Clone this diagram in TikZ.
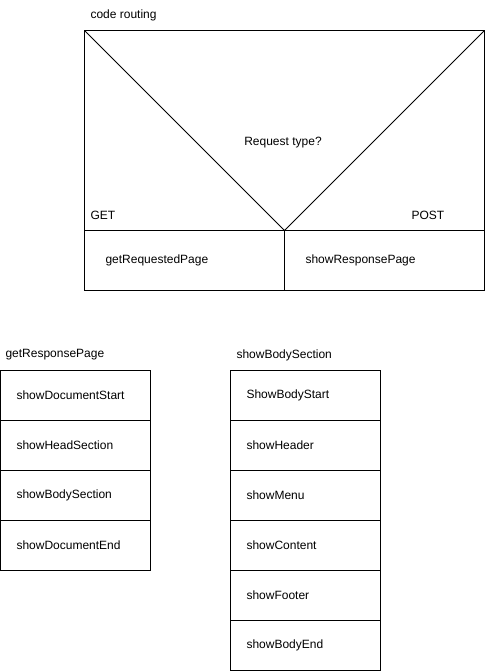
\documentclass[tikz,border=0pt]{standalone}
\usepackage{fontspec}
\setmainfont{Liberation Sans}
\usetikzlibrary{positioning}

\begin{document}
\begin{tikzpicture}[x=1pt, y=-1pt, line width=1pt, font=\fontsize{12}{14}\selectfont,
    cell/.style={draw, rectangle, outer sep=0pt, minimum width=150pt, minimum height=50pt, text width=118pt, inner xsep=16pt, align=left},
    branch/.style={draw, rectangle, outer sep=0pt, minimum width=200pt, minimum height=60pt, text width=158pt, inner xsep=21pt, align=left},
    caption/.style={inner sep=0pt, anchor=west}]
    \useasboundingbox (0,0) rectangle (486,671);

    % Routing decision
    \node[caption] (routeTitle) at (90,15) {code routing};
    \node[draw, rectangle, outer sep=0pt, minimum width=400pt, minimum height=200pt, anchor=north west] (decide) at (84.5,30.5) {};
    \node[branch, anchor=north west] (getPage) at (decide.south west) {getRequestedPage};
    \node[branch, right=0pt of getPage] (postPage) {showResponsePage};
    \draw (decide.north west) -- (decide.south) -- (decide.north east);
    \node (askType) at (283,143) {Request type?};
    \node[caption] (getLabel) at (90,215) {GET};
    \node[caption] (postLabel) at (411,215) {POST};

    % getResponsePage
    \node[caption] (pageTitle) at (5,355) {getResponsePage};
    \node[cell, anchor=north west] (docStart) at (0.5,370.5) {showDocumentStart};
    \node[cell, below=0pt of docStart] (headSec) {showHeadSection};
    \node[cell, below=0pt of headSec] (bodySec) {showBodySection};
    \node[cell, below=0pt of bodySec] (docEnd) {showDocumentEnd};

    % showBodySection
    \node[caption] (bodyTitle) at (236,355) {showBodySection};
    \node[cell, anchor=north west] (bodyStart) at (230.5,370.5) {ShowBodyStart};
    \node[cell, below=0pt of bodyStart] (header) {showHeader};
    \node[cell, below=0pt of header] (menu) {showMenu};
    \node[cell, below=0pt of menu] (content) {showContent};
    \node[cell, below=0pt of content] (footer) {showFooter};
    \node[cell, below=0pt of footer] (bodyEnd) {showBodyEnd};
\end{tikzpicture}
\end{document}
